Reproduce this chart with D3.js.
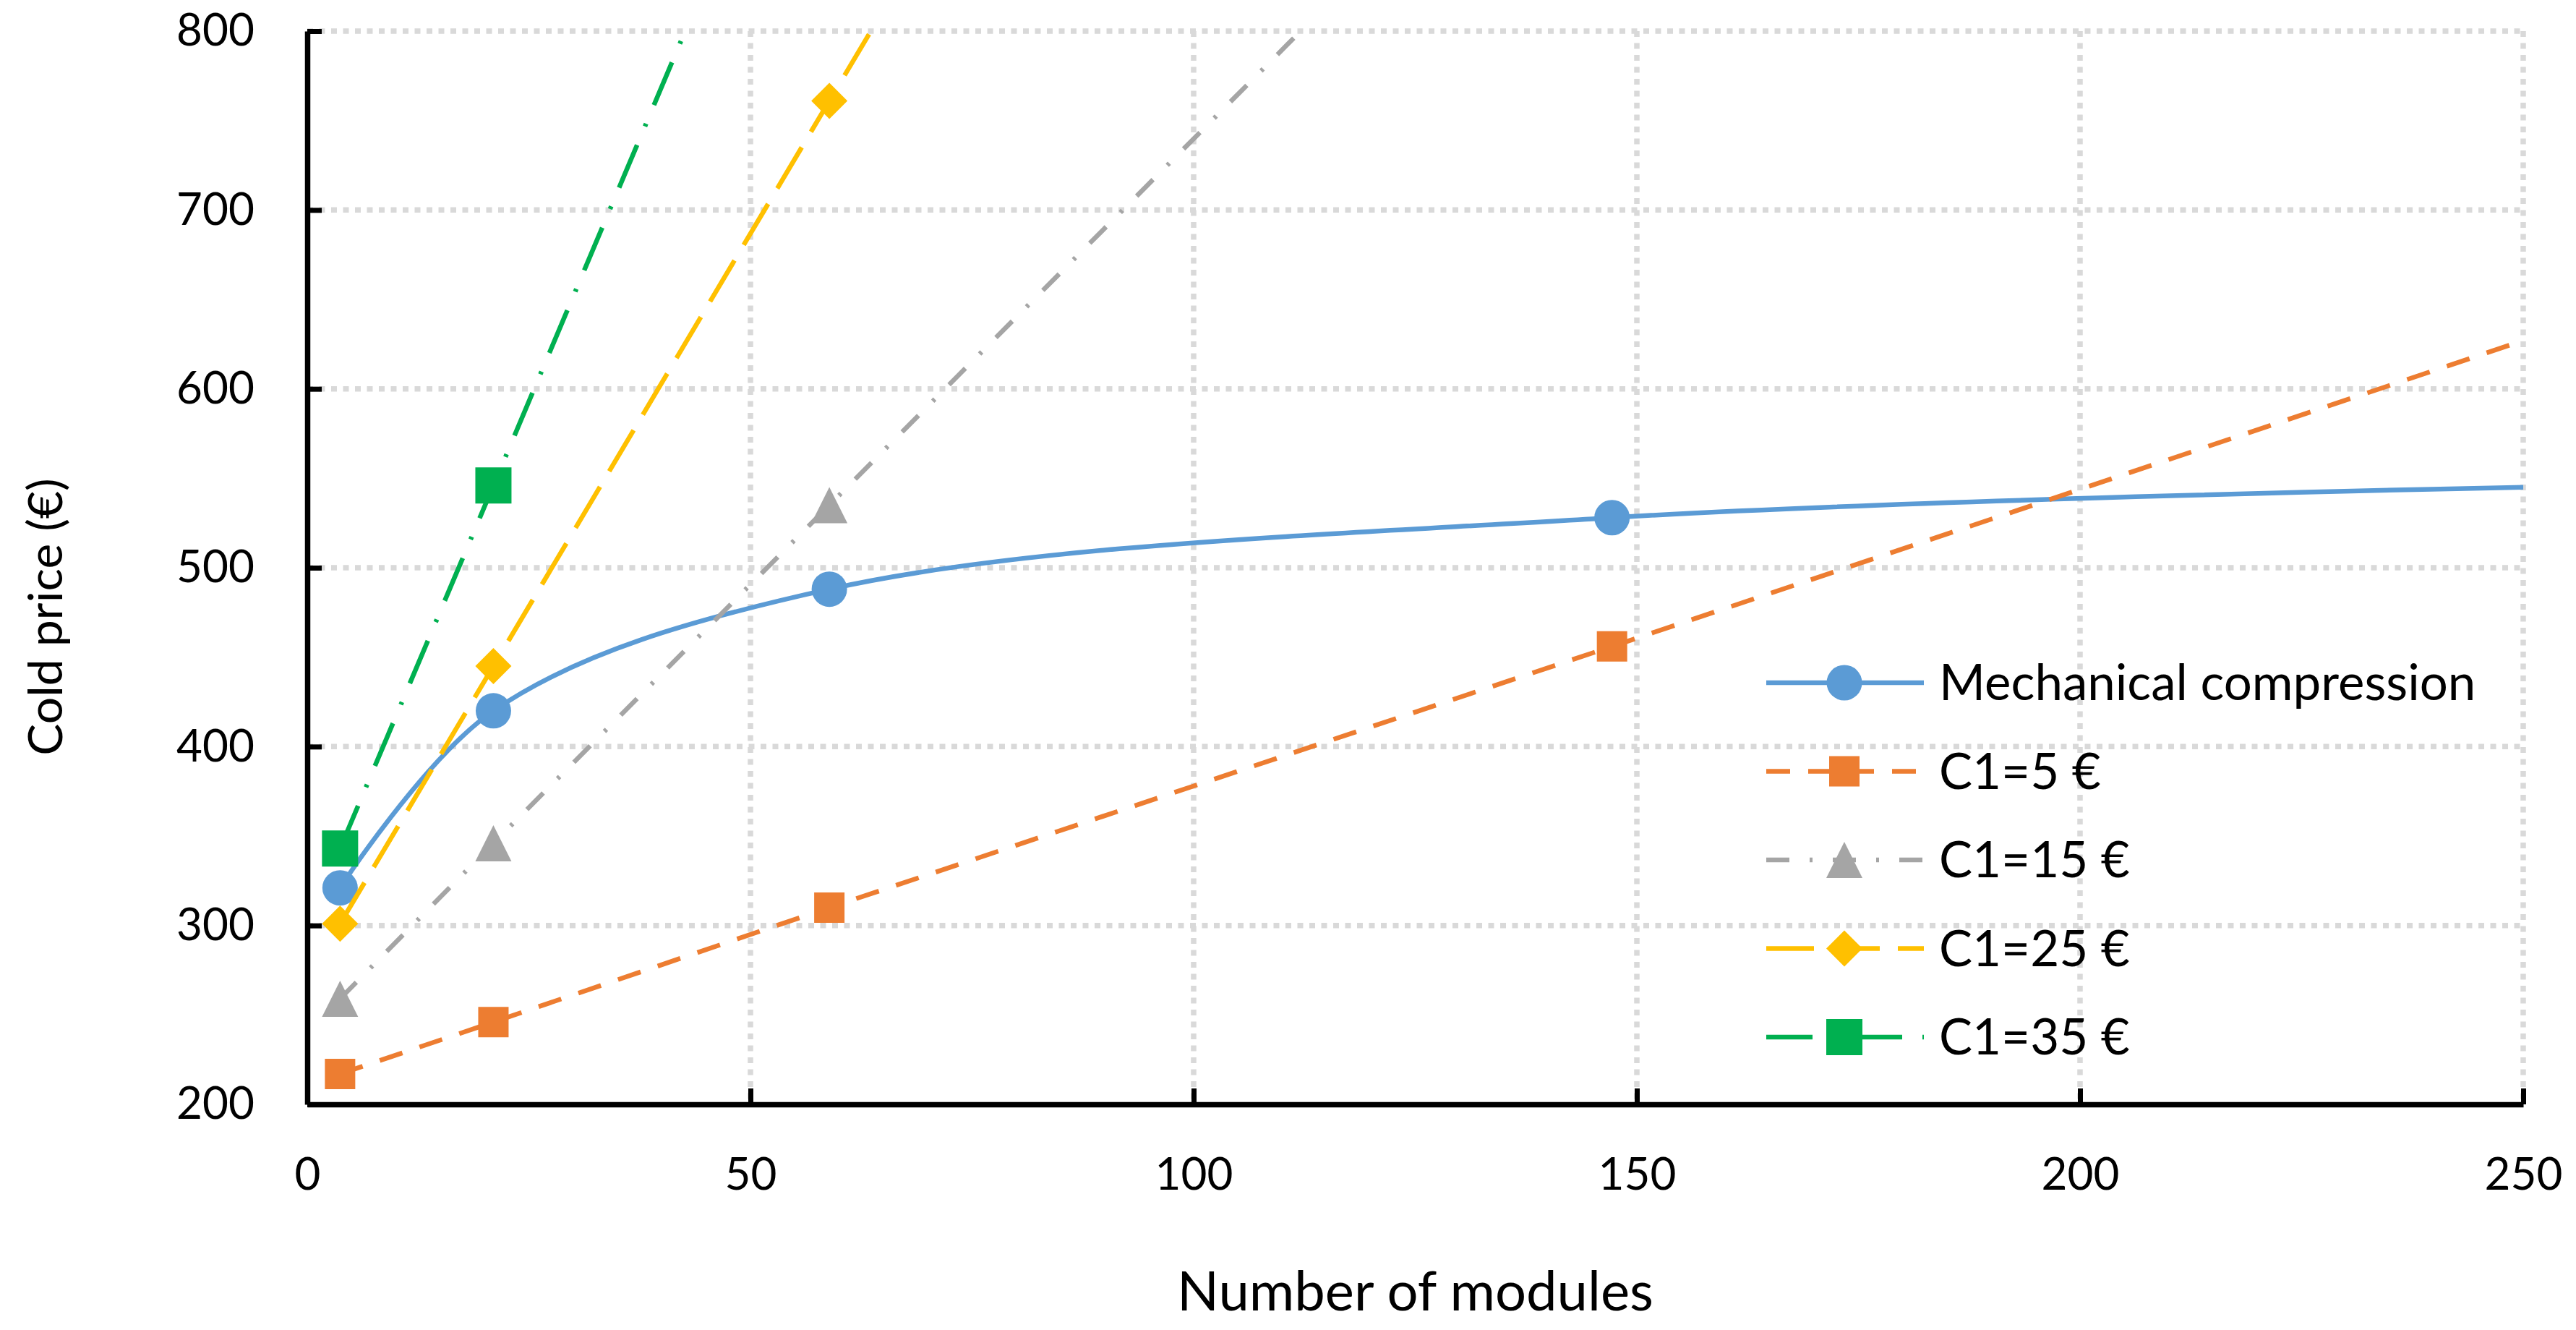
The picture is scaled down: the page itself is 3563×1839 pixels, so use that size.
<!DOCTYPE html>
<html>
<head>
<meta charset="UTF-8" />
<title>Cold price vs number of modules</title>
<script src="https://cdn.jsdelivr.net/npm/d3@7"></script>
<style>
    html, body { margin: 0; padding: 0; background: #fff; }
    svg { display: block; font-family: Lato, "Open Sans", sans-serif; }
</style>
</head>
<body>
<div id="chart"></div>
<script>
    // data (last value only carries each line to the axis edge)
    var modules = [3.7, 21, 58.9, 147.2, 250];
    var mechanical = [321, 420, 488, 528, 545];
    var c1_5 = [217, 246, 310, 456, 627];
    var c1_15 = [259, 346, 535, 975, 1488];
    var c1_25 = [301, 445, 761, 1496, 2355];
    var c1_35 = [343, 546, 991, 2024, 3232];
    var seriesNames = ["Mechanical compression", "C1=5 €", "C1=15 €", "C1=25 €", "C1=35 €"];
    var xTicks = [0, 50, 100, 150, 200, 250];
    var yTicks = [200, 300, 400, 500, 600, 700, 800];
    var markedPoints = 4;

    // styles
    var colors = ["#5B9BD5", "#ED7D31", "#A5A5A5", "#FFC000", "#00B050"];
    var dashes = [null, "33,25", "32,28,4,28", "66,25", "64,28,4,28"];
    var shapes = ["circle", "square", "triangle", "diamond", "square"];
    var markerSizes = [49, 42, 50, 50, 50];

    var W = 3563, H = 1839;
    var plotL = 425, plotR = 3490, plotT = 43, plotB = 1527;

    var svg = d3.select("#chart").append("svg").attr("width", W).attr("height", H);

    var x = d3.scaleLinear().domain([0, 250]).range([plotL, plotR]);
    var y = d3.scaleLinear().domain([200, 800]).range([plotB, plotT]);

    // grid
    var grid = svg.append("g").attr("stroke", "#D9D9D9").attr("stroke-width", 7.5).attr("stroke-dasharray", "8,8.5");
    grid.selectAll(".gy").data(yTicks.slice(1)).enter().append("line")
        .attr("x1", plotL).attr("x2", plotR).attr("y1", function (d) { return y(d); }).attr("y2", function (d) { return y(d); });
    grid.selectAll(".gx").data(xTicks.slice(1)).enter().append("line")
        .attr("y1", plotT).attr("y2", plotB).attr("x1", function (d) { return x(d); }).attr("x2", function (d) { return x(d); });

    // axes
    var yAxis = svg.append("g").attr("transform", "translate(" + plotL + ",0)")
        .call(d3.axisLeft(y).tickValues(yTicks).tickSize(-20).tickSizeOuter(0).tickPadding(73));
    var xAxis = svg.append("g").attr("transform", "translate(0," + plotB + ")")
        .call(d3.axisBottom(x).tickValues(xTicks).tickSize(-22).tickSizeOuter(0).tickPadding(74));
    [yAxis, xAxis].forEach(function (a) {
        a.select(".domain").attr("stroke", "#000").attr("stroke-width", 7.5);
        a.selectAll(".tick line").attr("stroke", "#000").attr("stroke-width", 7);
        a.selectAll(".tick text").attr("fill", "#000").style("font-size", "62px").style("font-family", "Lato, 'Open Sans', sans-serif");
    });

    svg.append("text").attr("transform", "translate(86,853) rotate(-90)")
        .attr("text-anchor", "middle").style("font-size", "66px").text("Cold price (€)");
    svg.append("text").attr("x", (plotL + plotR) / 2).attr("y", 1812)
        .attr("text-anchor", "middle").style("font-size", "76px").text("Number of modules");

    function markerPath(shape, s) {
        var h = s / 2;
        if (shape === "circle") return d3.symbol().type(d3.symbolCircle).size(Math.PI * h * h)();
        if (shape === "square") return "M" + -h + "," + -h + "H" + h + "V" + h + "H" + -h + "Z";
        if (shape === "triangle") return "M0," + -h + "L" + h + "," + h + "L" + -h + "," + h + "Z";
        return "M0," + -h + "L" + h + ",0L0," + h + "L" + -h + ",0Z";
    }

    svg.append("clipPath").attr("id", "plot").append("rect")
        .attr("x", plotL).attr("y", plotT).attr("width", plotR - plotL).attr("height", plotB - plotT);

    var allSeries = [mechanical, c1_5, c1_15, c1_25, c1_35];
    allSeries.forEach(function (vals, i) {
        var pts = modules.map(function (m, j) { return [m, vals[j]]; });
        var line = d3.line()
            .x(function (d) { return x(d[0]); })
            .y(function (d) { return y(d[1]); })
            .curve(i === 0 ? d3.curveCatmullRom.alpha(0.5) : d3.curveLinear);
        svg.append("path").attr("d", line(pts)).attr("clip-path", "url(#plot)")
            .attr("fill", "none").attr("stroke", colors[i]).attr("stroke-width", 6.5)
            .attr("stroke-dasharray", dashes[i]);
        svg.append("g").selectAll("path")
            .data(pts.filter(function (d, j) { return j < markedPoints && d[1] <= 800; }))
            .enter().append("path")
            .attr("transform", function (d) { return "translate(" + x(d[0]) + "," + y(d[1]) + ")"; })
            .attr("d", markerPath(shapes[i], markerSizes[i]))
            .attr("fill", colors[i]);
    });

    // legend
    var legend = svg.append("g");
    seriesNames.forEach(function (name, i) {
        var ly = 944 + i * 122.5;
        legend.append("line").attr("x1", 2443).attr("x2", 2661).attr("y1", ly).attr("y2", ly)
            .attr("stroke", colors[i]).attr("stroke-width", 6.5).attr("stroke-dasharray", dashes[i]);
        legend.append("path").attr("transform", "translate(2551," + ly + ")")
            .attr("d", markerPath(shapes[i], markerSizes[i])).attr("fill", colors[i]);
        legend.append("text").attr("x", 2682).attr("y", ly + 24).style("font-size", "69px").text(name);
    });
</script>
</body>
</html>
